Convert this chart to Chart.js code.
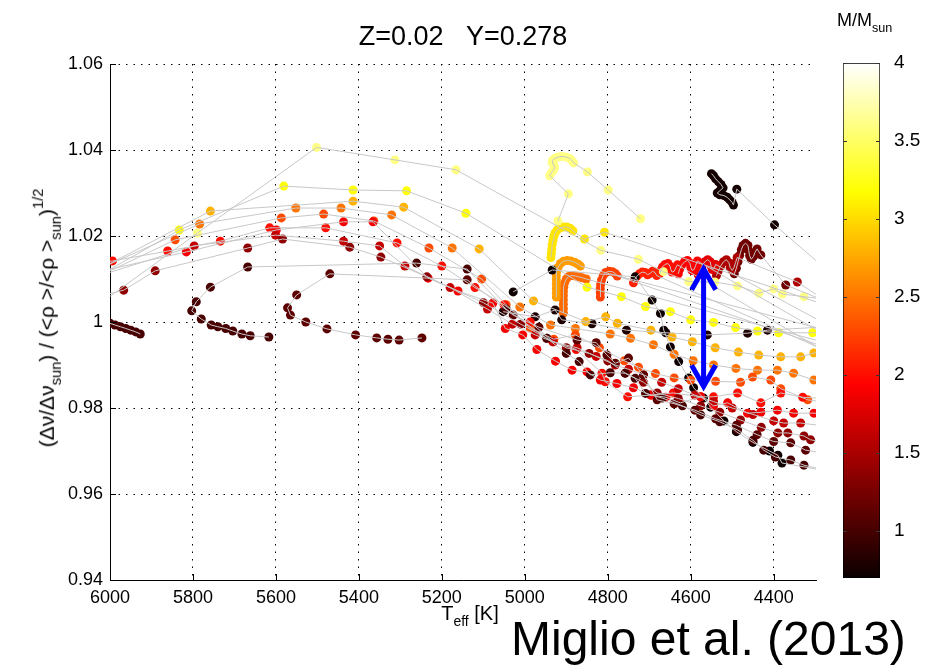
<!DOCTYPE html>
<html>
<head>
<meta charset="utf-8">
<script src="https://cdn.jsdelivr.net/npm/chart.js@4.4.1/dist/chart.umd.min.js"></script>
<style>
  body { margin: 0; background: #fff; font-family: 'Liberation Sans', Arial, sans-serif; }
  #wrap { position: relative; width: 933px; height: 670px; overflow: hidden; background: #fff; }
  #main { position: absolute; left: 0; top: 0; }
  #cbar { position: absolute; left: 836px; top: 0; }
  .lbl { position: absolute; white-space: nowrap; color: #000; line-height: 1; }
  .lbl sub { font-size: 0.7em; vertical-align: -0.45em; }
  .lbl sup { font-size: 0.7em; vertical-align: 0.75em; }
  #yhold { position: absolute; left: 47px; top: 318px; width: 0; height: 0; }
  #ylab { left: 0; top: 0; transform-origin: 0 0; transform: rotate(-90deg) translate(-50%, -50%); font-size: 21px; }
  #xlab { left: 470px; top: 603px; transform: translateX(-50%); font-size: 20px; }
  #cblab { left: 837px; top: 11px; font-size: 18px; }
  #cite { left: 511px; top: 615px; font-size: 48px; }
</style>
</head>
<body>
<div id="wrap">
  <canvas id="main" width="830" height="670"></canvas>
  <canvas id="cbar" width="97" height="670"></canvas>
  <div id="yhold"><div class="lbl" id="ylab">(Δν/Δν<sub>sun</sub>) / (&lt;ρ &gt;/&lt;ρ &gt;<sub>sun</sub>)<sup>1/2</sup></div></div>
  <div class="lbl" id="xlab">T<sub>eff</sub> [K]</div>
  <div class="lbl" id="cblab">M/M<sub>sun</sub></div>
  <div class="lbl" id="cite">Miglio et al. (2013)</div>
</div>
<script>
// axes
const xRange = [4298, 6000];
const yRange = [0.94, 1.06];
const xTicks = [6000, 5800, 5600, 5400, 5200, 5000, 4800, 4600, 4400];
const yTicks = [0.94, 0.96, 0.98, 1.00, 1.02, 1.04, 1.06];

// colour bar (mass, M/Msun)
const cbRange = [0.7, 4.0];
const cbTicks = [1, 1.5, 2, 2.5, 3, 3.5, 4];

// evolutionary tracks: mass, then [Teff, ratio] points
const trackMass = [1.0, 1.0, 1.1, 1.35, 1.6, 1.85, 2.0, 2.3, 2.5, 2.8, 3.2, 3.6, 0.72, 0.8];
const trackPoints = [
  [[6000,0.9997],[5988,0.9993],[5975,0.9989],[5962,0.9985],[5950,0.9981],[5938,0.9977],[5927,0.9972]],
  [[5617,0.9965],[5662,0.9968],[5682,0.9972],[5704,0.9979],[5721,0.9985],[5740,0.9989],[5756,0.9993],[5780,1.0007],[5803,1.0026],[5792,1.0047],[5758,1.0081],[5668,1.0128],[5261,1.0137],[5139,1.0123],[5045,1.0030],[4947,0.9962],[4900,0.9927],[4869,0.9908],[4842,0.9877],[4794,0.9882],[4758,0.9881],[4734,0.9869],[4709,0.9834],[4668,0.9823],[4620,0.9805],[4576,0.9784],[4530,0.9768],[4487,0.9749],[4450,0.9725],[4424,0.9702],[4396,0.9686],[4359,0.9679],[4327,0.9667],[4250,0.9650]],
  [[5248,0.9963],[5303,0.9958],[5330,0.9960],[5357,0.9963],[5408,0.9970],[5477,0.9984],[5528,1.0000],[5565,1.0016],[5572,1.0033],[5550,1.0063],[5470,1.0112],[5139,1.0098],[5028,1.0016],[4966,0.9988],[4874,0.9958],[4828,0.9952],[4802,0.9923],[4782,0.9904],[4750,0.9916],[4714,0.9877],[4681,0.9819],[4640,0.9810],[4590,0.9795],[4540,0.9775],[4490,0.9760],[4440,0.9738],[4400,0.9722],[4359,0.9719],[4323,0.9702],[4250,0.9690]],
  [[6150,1.0030],[5967,1.0074],[5891,1.0119],[5668,1.0172],[5584,1.0193],[5422,1.0174],[5347,1.0151],[5236,1.0105],[5100,1.0045],[5010,0.9995],[4947,0.9962],[4900,0.9940],[4845,0.9927],[4800,0.9910],[4758,0.9881],[4714,0.9860],[4681,0.9835],[4630,0.9822],[4576,0.9805],[4530,0.9790],[4480,0.9772],[4430,0.9755],[4390,0.9742],[4366,0.9742],[4327,0.9735],[4311,0.9726],[4250,0.9715]],
  [[6150,1.0070],[5797,1.0177],[5601,1.0202],[5437,1.0188],[5350,1.0177],[5289,1.0130],[5180,1.0080],[5090,1.0030],[5030,0.9995],[4975,0.9970],[4932,0.9954],[4874,0.9940],[4828,0.9920],[4782,0.9900],[4750,0.9890],[4714,0.9877],[4670,0.9860],[4630,0.9845],[4590,0.9830],[4545,0.9815],[4500,0.9800],[4450,0.9785],[4400,0.9770],[4376,0.9765],[4335,0.9765],[4250,0.9755]],
  [[6150,1.0090],[5816,1.0163],[5599,1.0214],[5437,1.0233],[5366,1.0233],[5233,1.0102],[5161,1.0072],[5077,1.0044],[5047,0.9985],[5005,0.9970],[4971,0.9936],[4926,0.9909],[4886,0.9888],[4850,0.9884],[4818,0.9865],[4778,0.9857],[4738,0.9847],[4696,0.9830],[4660,0.9825],[4625,0.9812],[4576,0.9826],[4545,0.9805],[4511,0.9812],[4463,0.9788],[4431,0.9790],[4391,0.9795],[4352,0.9788],[4303,0.9788],[4250,0.9785]],
  [[6150,1.0110],[5994,1.0142],[5861,1.0165],[5734,1.0188],[5615,1.0219],[5480,1.0219],[5308,1.0184],[5200,1.0130],[5120,1.0080],[5050,1.0040],[4987,1.0000],[4932,0.9954],[4876,0.9936],[4814,0.9881],[4806,0.9861],[4752,0.9826],[4696,0.9830],[4642,0.9835],[4576,0.9826],[4545,0.9826],[4487,0.9835],[4431,0.9812],[4383,0.9835],[4330,0.9825],[4250,0.9820]],
  [[6150,1.0050],[5843,1.0191],[5587,1.0242],[5485,1.0251],[5364,1.0235],[5231,1.0172],[5104,1.0100],[5045,1.0040],[4987,0.9986],[4930,0.9960],[4878,0.9970],[4820,0.9940],[4760,0.9910],[4726,0.9895],[4685,0.9880],[4640,0.9870],[4600,0.9865],[4540,0.9862],[4480,0.9860],[4451,0.9872],[4407,0.9865],[4383,0.9845],[4318,0.9819],[4250,0.9810]],
  [[6150,1.0070],[5784,1.0228],[5552,1.0265],[5443,1.0265],[5321,1.0249],[5175,1.0172],[5012,1.0035],[4938,0.9993],[4878,0.9985],[4794,0.9972],[4745,0.9962],[4690,0.9947],[4640,0.9925],[4594,0.9910],[4545,0.9900],[4491,0.9892],[4439,0.9888],[4391,0.9888],[4352,0.9881],[4303,0.9865],[4250,0.9860]],
  [[6150,1.0060],[5758,1.0258],[5414,1.0281],[5292,1.0267],[5110,1.0170],[4979,1.0049],[4853,1.0001],[4805,1.0012],[4777,0.9997],[4696,0.9981],[4645,0.9965],[4596,0.9954],[4541,0.9940],[4485,0.9930],[4436,0.9923],[4383,0.9919],[4335,0.9919],[4303,0.9928],[4250,0.9935]],
  [[6150,1.0040],[5833,1.0214],[5581,1.0316],[5414,1.0307],[5285,1.0305],[5142,1.0253],[4850,1.0081],[4767,1.0059],[4709,1.0036],[4649,1.0024],[4600,1.0005],[4545,0.9999],[4492,0.9987],[4439,0.9979],[4388,0.9975],[4306,0.9975],[4250,0.9975]],
  [[6100,0.9990],[5789,1.0207],[5502,1.0406],[5313,1.0377],[5166,1.0354],[4817,1.0167],[4726,1.0146],[4666,1.0117],[4605,1.0094],[4542,1.0093],[4487,1.0084],[4436,1.0067],[4400,1.0077],[4379,1.0065],[4327,1.0059],[4250,1.0050]],
  [[5028,1.0070],[4934,1.0121],[4734,1.0105],[4693,1.0051],[4673,1.0020],[4665,0.9981],[4649,0.9942],[4629,0.9908],[4605,0.9870],[4593,0.9847],[4569,0.9823],[4552,0.9802],[4520,0.9770],[4490,0.9745],[4450,0.9720],[4410,0.9700],[4390,0.9690],[4380,0.9672],[4250,0.9650]],
  [[5052,1.0024],[4975,1.0012],[4927,1.0028],[4911,1.0005],[4838,0.9996],[4755,0.9981],[4660,0.9975],[4560,0.9970],[4463,0.9974],[4415,0.9981],[4250,0.9990]]
];

// clump loops (dense points) and their tails
const clumpMass = [3.6, 3.05, 2.7, 2.45, 2.25, 2.1, 2.0, 1.9, 1.75, 1.5, 1.2, 0.75];
const clumpPoints = [
  [[4920,1.0235],[4895,1.0298],[4940,1.0340],[4936,1.0347],[4931,1.0353],[4928,1.0359],[4930,1.0365],[4934,1.0370],[4933,1.0376],[4927,1.0381],[4919,1.0384],[4910,1.0385],[4901,1.0384],[4893,1.0381],[4887,1.0376],[4882,1.0370],[4849,1.0349],[4799,1.0307],[4721,1.0240]],
  [[4937,1.0150],[4936,1.0160],[4935,1.0170],[4934,1.0180],[4932,1.0190],[4930,1.0199],[4927,1.0207],[4922,1.0214],[4915,1.0219],[4907,1.0221],[4899,1.0221],[4891,1.0218],[4884,1.0212],[4856,1.0193],[4808,1.0209],[4150,1.0000]],
  [[4924,1.0058],[4924,1.0068],[4924,1.0078],[4924,1.0088],[4924,1.0098],[4924,1.0108],[4923,1.0118],[4920,1.0127],[4914,1.0136],[4907,1.0141],[4898,1.0143],[4889,1.0142],[4880,1.0139],[4872,1.0135],[4866,1.0130],[4150,0.9950]],
  [[4907,1.0021],[4907,1.0031],[4907,1.0041],[4907,1.0051],[4907,1.0061],[4907,1.0071],[4906,1.0081],[4904,1.0091],[4900,1.0100],[4894,1.0106],[4886,1.0108],[4878,1.0107],[4870,1.0105],[4862,1.0103],[4852,1.0100],[4150,0.9920]],
  [[4818,1.0058],[4818,1.0068],[4818,1.0078],[4817,1.0088],[4815,1.0098],[4811,1.0108],[4805,1.0115],[4797,1.0118],[4789,1.0117],[4782,1.0113],[4777,1.0107],[4150,0.9900]],
  [[4738,1.0091],[4735,1.0099],[4730,1.0106],[4724,1.0112],[4717,1.0116],[4710,1.0115],[4704,1.0110],[4698,1.0113],[4692,1.0118],[4686,1.0115],[4682,1.0108],[4150,0.9880]],
  [[4675,1.0112],[4672,1.0120],[4668,1.0128],[4662,1.0134],[4655,1.0136],[4650,1.0130],[4648,1.0122],[4645,1.0116],[4640,1.0118],[4636,1.0126],[4632,1.0133],[4150,0.9860]],
  [[4630,1.0112],[4627,1.0122],[4622,1.0132],[4615,1.0140],[4608,1.0143],[4602,1.0137],[4600,1.0128],[4597,1.0120],[4592,1.0122],[4588,1.0132],[4584,1.0142],[4150,0.9900]],
  [[4582,1.0110],[4578,1.0120],[4573,1.0130],[4566,1.0140],[4559,1.0145],[4553,1.0140],[4551,1.0130],[4548,1.0122],[4544,1.0124],[4540,1.0134],[4150,0.9930]],
  [[4538,1.0108],[4534,1.0118],[4528,1.0130],[4521,1.0140],[4514,1.0145],[4508,1.0138],[4505,1.0127],[4500,1.0120],[4496,1.0126],[4492,1.0138],[4488,1.0150],[4343,1.0093],[4150,0.9970]],
  [[4495,1.0112],[4490,1.0125],[4486,1.0140],[4482,1.0155],[4478,1.0168],[4474,1.0178],[4468,1.0183],[4462,1.0178],[4460,1.0166],[4458,1.0154],[4454,1.0146],[4449,1.0152],[4445,1.0162],[4440,1.0170],[4431,1.0156],[4371,1.0086],[4150,1.0000]],
  [[4550,1.0345],[4545,1.0340],[4540,1.0333],[4533,1.0326],[4527,1.0320],[4522,1.0312],[4530,1.0305],[4536,1.0300],[4530,1.0296],[4520,1.0294],[4512,1.0290],[4506,1.0284],[4500,1.0278],[4497,1.0272],[4489,1.0309],[4398,1.0226],[4150,1.0020]]
];

// blue double arrow (Teff, ratio at the two tips)
const arrowTeff = [4569, 4569];
const arrowRatio = [0.9848, 1.0126];

Chart.defaults.font.family = "'Liberation Sans', Arial, sans-serif";
Chart.defaults.color = "#000";

// matlab "hot" colour map
function hot(m) {
  const t = Math.min(1, Math.max(0, (m - cbRange[0]) / (cbRange[1] - cbRange[0])));
  const c = v => Math.round(255 * Math.min(1, Math.max(0, v)));
  return `rgb(${c(t / 0.375 + 0.04)},${c((t - 0.375) / 0.375)},${c((t - 0.75) / 0.25)})`;
}

const datasets = [];
const allMass = trackMass.concat(clumpMass);
trackPoints.concat(clumpPoints).forEach((pts, i) => {
  const data = pts.map(p => ({ x: p[0], y: p[1] }));
  datasets.push({ data, showLine: true, borderColor: "#c8c8c8", borderWidth: 1, pointRadius: 0, order: 0 });
  datasets.push({ data, showLine: false, pointRadius: 4.5, pointBorderWidth: 0,
    pointBackgroundColor: hot(allMass[i]), order: 1 });
});

const innerTicks = {
  id: "innerTicks",
  afterDraw(chart) {
    const { ctx, chartArea: a, scales: { x, y } } = chart;
    ctx.save();
    ctx.strokeStyle = "#000";
    ctx.lineWidth = 1;
    ctx.beginPath();
    xTicks.forEach(v => {
      const px = Math.round(x.getPixelForValue(v)) + 0.5;
      ctx.moveTo(px, a.bottom); ctx.lineTo(px, a.bottom - 6);
    });
    yTicks.forEach(v => {
      const py = Math.round(y.getPixelForValue(v)) + 0.5;
      ctx.moveTo(a.left, py); ctx.lineTo(a.left + 6, py);
    });
    ctx.stroke();
    ctx.restore();
  }
};

const arrow = {
  id: "arrow",
  afterDatasetsDraw(chart) {
    const { ctx, scales: { x, y } } = chart;
    const px = x.getPixelForValue(arrowTeff[0]);
    const bot = y.getPixelForValue(arrowRatio[0]);
    const top = y.getPixelForValue(arrowRatio[1]);
    ctx.save();
    ctx.strokeStyle = "#0000ff";
    ctx.lineWidth = 5;
    ctx.beginPath();
    ctx.moveTo(px, top + 3); ctx.lineTo(px, bot - 3);
    ctx.moveTo(px - 12, top + 22); ctx.lineTo(px, top + 1); ctx.lineTo(px + 12, top + 22);
    ctx.moveTo(px - 12, bot - 22); ctx.lineTo(px, bot - 1); ctx.lineTo(px + 12, bot - 22);
    ctx.stroke();
    ctx.restore();
  }
};

new Chart(document.getElementById("main"), {
  type: "scatter",
  data: { datasets },
  options: {
    responsive: false,
    animation: false,
    layout: { padding: { left: 0, right: 14, top: 0, bottom: 0 } },
    plugins: {
      legend: { display: false },
      tooltip: { enabled: false },
      title: {
        display: true, text: "Z=0.02   Y=0.278", fullSize: false,
        font: { size: 27, weight: "normal" }, color: "#000",
        padding: { top: 21, bottom: 10.6 }
      }
    },
    scales: {
      x: {
        type: "linear", reverse: true, min: xRange[0], max: xRange[1],
        afterBuildTicks: s => { s.ticks = xTicks.map(v => ({ value: v })); },
        afterFit: s => { s.height = 90; },
        grid: { color: "#000", lineWidth: 1, drawTicks: false },
        border: { color: "#000", width: 1, dash: [1.5, 6] },
        ticks: { font: { size: 18 }, padding: 7, autoSkip: false, maxRotation: 0, callback: v => String(v) }
      },
      y: {
        type: "linear", min: yRange[0], max: yRange[1],
        afterBuildTicks: s => { s.ticks = yTicks.map(v => ({ value: v })); },
        afterFit: s => { s.width = 110; },
        grid: { color: "#000", lineWidth: 1, drawTicks: false },
        border: { color: "#000", width: 1, dash: [1.5, 6] },
        ticks: { font: { size: 18 }, padding: 7, callback: v => String(+v.toFixed(2)) }
      }
    }
  },
  plugins: [innerTicks, arrow]
});

// colour bar
const cbMarks = {
  id: "cbMarks",
  afterDraw(chart) {
    const { ctx, chartArea: a, scales: { y } } = chart;
    ctx.save();
    ctx.strokeStyle = "#333";
    ctx.lineWidth = 1;
    ctx.beginPath();
    cbTicks.forEach(v => {
      const py = Math.round(y.getPixelForValue(v)) + 0.5;
      ctx.moveTo(a.left, py); ctx.lineTo(a.left + 4, py);
      ctx.moveTo(a.right, py); ctx.lineTo(a.right - 4, py);
    });
    ctx.stroke();
    ctx.restore();
  }
};

new Chart(document.getElementById("cbar"), {
  type: "bar",
  data: {
    labels: [""],
    datasets: [{
      data: [cbRange],
      backgroundColor: c => {
        const a = c.chart.chartArea;
        if (!a) return "#000";
        const g = c.chart.ctx.createLinearGradient(0, a.bottom, 0, a.top);
        g.addColorStop(0, "rgb(10,0,0)");
        g.addColorStop(0.375, "rgb(255,0,0)");
        g.addColorStop(0.75, "rgb(255,255,0)");
        g.addColorStop(1, "rgb(255,255,255)");
        return g;
      },
      borderColor: "#000", borderWidth: 1, borderSkipped: false,
      barPercentage: 1, categoryPercentage: 1
    }]
  },
  options: {
    responsive: false,
    animation: false,
    layout: { padding: { left: 7, top: 63, bottom: 92, right: 0 } },
    plugins: { legend: { display: false }, tooltip: { enabled: false } },
    scales: {
      x: { display: false },
      y: {
        position: "right", min: cbRange[0], max: cbRange[1],
        afterBuildTicks: s => { s.ticks = cbTicks.map(v => ({ value: v })); },
        afterFit: s => { s.width = 53; },
        grid: { display: false },
        border: { display: false },
        ticks: { font: { size: 19 }, padding: 6, callback: v => String(v) }
      }
    }
  },
  plugins: [cbMarks]
});
</script>
</body>
</html>
